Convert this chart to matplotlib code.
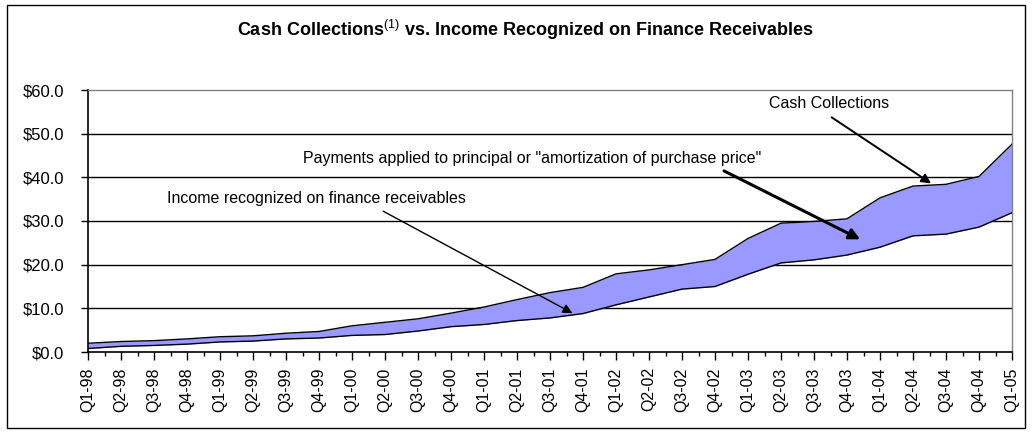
import matplotlib
matplotlib.use("Agg")
import matplotlib.pyplot as plt
from matplotlib.patches import Rectangle
import numpy as np

quarters = ["Q1-98", "Q2-98", "Q3-98", "Q4-98", "Q1-99", "Q2-99", "Q3-99", "Q4-99",
            "Q1-00", "Q2-00", "Q3-00", "Q4-00", "Q1-01", "Q2-01", "Q3-01", "Q4-01",
            "Q1-02", "Q2-02", "Q3-02", "Q4-02", "Q1-03", "Q2-03", "Q3-03", "Q4-03",
            "Q1-04", "Q2-04", "Q3-04", "Q4-04", "Q1-05"]
cash_collections = [2.0, 2.4, 2.6, 3.0, 3.5, 3.7, 4.3, 4.7,
                    6.0, 6.8, 7.6, 8.9, 10.3, 12.0, 13.6, 14.8,
                    17.9, 18.8, 20.0, 21.2, 26.0, 29.5, 29.9, 30.5,
                    35.3, 38.0, 38.4, 40.2, 47.6]
income_recognized = [0.8, 1.3, 1.5, 1.8, 2.3, 2.5, 3.0, 3.2,
                     3.8, 4.0, 4.8, 5.8, 6.3, 7.2, 7.8, 8.8,
                     10.8, 12.6, 14.4, 15.0, 17.8, 20.4, 21.1, 22.2,
                     24.0, 26.6, 27.0, 28.6, 31.9]
y_ticks = [0, 10, 20, 30, 40, 50, 60]
y_tick_labels = ["$0.0", "$10.0", "$20.0", "$30.0", "$40.0", "$50.0", "$60.0"]

plt.rcParams['font.family'] = ['Liberation Sans', 'DejaVu Sans']
plt.rcParams['mathtext.fontset'] = 'custom'
plt.rcParams['mathtext.rm'] = 'Liberation Sans'

W, H = 1032, 432
fig = plt.figure(figsize=(W / 100, H / 100), dpi=100)
fig.patch.set_facecolor('white')

# outer chart border
fig.patches.append(Rectangle((7 / W, 4 / H), 1018 / W, 423 / H, transform=fig.transFigure,
                             fill=False, edgecolor='black', lw=1.0))

left, right, top, bottom = 88, 1012, 90, 352
ax = fig.add_axes([left / W, (H - bottom) / H, (right - left) / W, (bottom - top) / H])

x = np.arange(len(quarters))
ax.fill_between(x, income_recognized, cash_collections, color='#9999FF', lw=0, zorder=2)
ax.plot(x, cash_collections, color='black', lw=1.0, zorder=3)
ax.plot(x, income_recognized, color='black', lw=1.0, zorder=3)

ax.set_xlim(0, len(quarters) - 1)
ax.set_ylim(0, 60)
ax.set_yticks(y_ticks)
ax.set_yticklabels(y_tick_labels, fontsize=12)
for v in y_ticks[1:-1]:
    ax.axhline(v, color='black', lw=1.0, zorder=1)

ax.set_xticks(x)
ax.set_xticklabels(quarters, rotation=90, fontsize=11.5)
ax.set_xticks(x[:-1] + 0.5, minor=True)
ax.tick_params(axis='x', which='major', length=6, direction='out', width=1, pad=5)
ax.tick_params(axis='x', which='minor', length=3, direction='out', width=1)
ax.tick_params(axis='y', length=5, direction='out', width=1, pad=12)

for s in ['left', 'bottom']:
    ax.spines[s].set_color('black')
    ax.spines[s].set_linewidth(1.2)
for s in ['top', 'right']:
    ax.spines[s].set_color('#808080')
    ax.spines[s].set_linewidth(1.0)

# title
fig.text(525 / W, 1 - 30 / H,
         r"Cash Collections$^{(1)}$ vs. Income Recognized on Finance Receivables",
         ha='center', va='center', fontsize=13, fontweight='bold')

# annotations
ax.annotate("Cash Collections", xy=(25.55, 38.6), xytext=(22.45, 56.8),
            ha='center', va='center', fontsize=11.5, annotation_clip=False,
            arrowprops=dict(arrowstyle='-|>', color='black', lw=1.4, mutation_scale=14,
                            shrinkA=4, shrinkB=0, relpos=(0.45, 0.0)))
ax.annotate('Payments applied to principal or "amortization of purchase price"',
            xy=(23.4, 25.8), xytext=(13.47, 44.4),
            ha='center', va='center', fontsize=11.5, annotation_clip=False,
            arrowprops=dict(arrowstyle='-|>', color='black', lw=2.2, mutation_scale=16,
                            shrinkA=4, shrinkB=0, relpos=(0.895, 0.0)))
ax.annotate('Income recognized on finance receivables',
            xy=(14.68, 8.9), xytext=(6.92, 35.2),
            ha='center', va='center', fontsize=11.5, annotation_clip=False,
            arrowprops=dict(arrowstyle='-|>', color='black', lw=1.0, mutation_scale=14,
                            shrinkA=4, shrinkB=0, relpos=(0.69, 0.0)))

fig.savefig("out.png", dpi=100, facecolor='white')
